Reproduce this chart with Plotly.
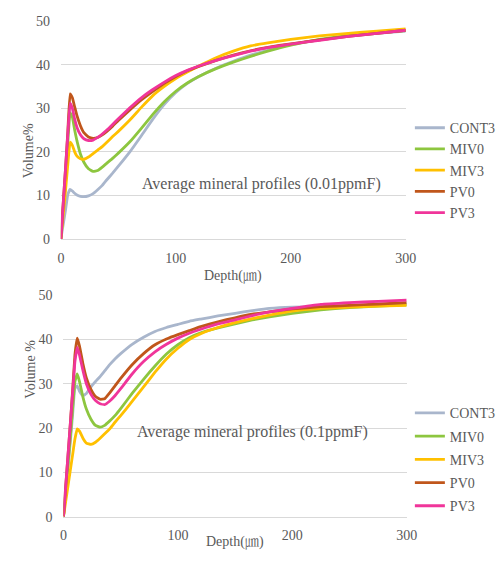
import plotly.graph_objects as go

# ---------------- data ----------------
depth = [0, 2, 4, 6, 8, 10, 12, 14, 17, 20, 24, 28, 32, 36, 40, 45, 50, 60, 70, 80,
         90, 100, 110, 120, 135, 150, 165, 180, 200, 225, 250, 275, 300]

series_names = ["CONT3", "MIV0", "MIV3", "PV0", "PV3"]
series_colors = ["#A9B6CC", "#8DC63F", "#FFC000", "#C0561B", "#F0359A"]

# Average mineral profiles (0.01ppmF)
top_cont3 = [0, 3.3, 6.6, 10.2, 11.4, 11.0, 10.5, 10.1, 9.8, 9.7, 9.9, 10.4, 11.3, 12.3, 13.6, 15.1, 16.7,
             20.0, 23.7, 27.5, 30.9, 33.6, 35.7, 37.3, 39.2, 40.8, 42.2, 43.3, 44.6, 45.7, 46.6, 47.2, 47.7]
top_miv0 = [0, 7, 14.5, 22, 29, 28, 25, 22.5, 19.5, 17.6, 16.1, 15.5, 15.7, 16.5, 17.4, 18.5, 19.7,
            22.3, 25.4, 28.6, 31.5, 33.9, 35.8, 37.3, 39.1, 40.6, 41.9, 43.1, 44.5, 45.8, 46.7, 47.3, 47.8]
top_miv3 = [0, 5.5, 11, 17, 22.2, 21.5, 20, 19.0, 18.4, 18.3, 18.8, 19.6, 20.4, 21.2, 22.2, 23.5, 24.7,
            27.3, 30.2, 32.9, 35.0, 36.8, 38.3, 39.7, 41.6, 43.1, 44.3, 45.0, 45.8, 46.6, 47.2, 47.7, 48.2]
top_pv0 = [0, 8, 16, 24.5, 33.3, 32.4, 30.3, 28.3, 26.0, 24.4, 23.4, 23.1, 23.3, 23.9, 24.7, 25.9, 27.2,
           29.6, 31.9, 33.9, 35.7, 37.3, 38.6, 39.6, 41.0, 42.2, 43.2, 44.0, 44.8, 45.7, 46.5, 47.2, 47.9]
top_pv3 = [0, 8, 16, 24, 31.2, 30.0, 27.5, 25.6, 23.9, 23.0, 22.6, 22.7, 23.3, 24.1, 25.0, 26.3, 27.6,
           30.1, 32.4, 34.3, 36.0, 37.5, 38.7, 39.7, 41.0, 42.1, 43.1, 43.9, 44.7, 45.6, 46.5, 47.2, 47.9]

# Average mineral profiles (0.1ppmF)
bot_cont3 = [0, 5.5, 11, 17, 23, 29, 29.5, 28.3, 27.3, 27.8, 29.3, 30.5, 31.6, 32.9, 34.2, 35.6, 36.8,
             38.9, 40.5, 41.8, 42.7, 43.4, 44.1, 44.6, 45.3, 45.9, 46.5, 47.0, 47.3, 47.4, 47.6, 47.8, 48.0]
bot_miv0 = [0, 6, 12, 18, 24.5, 30.5, 32.2, 30.5, 27.0, 24.3, 22.0, 20.6, 20.2, 20.6, 21.5, 22.8, 24.4,
            27.8, 31.0, 34.0, 36.7, 38.8, 40.4, 41.5, 42.6, 43.5, 44.4, 45.1, 45.9, 46.7, 47.2, 47.5, 47.8]
bot_miv3 = [0, 3.5, 7, 10.5, 14, 17.5, 19.8, 19.3, 17.7, 16.6, 16.3, 16.8, 17.7, 18.7, 19.7, 21.3, 22.8,
            26.0, 29.3, 32.6, 35.6, 38.0, 40.0, 41.3, 42.7, 43.8, 44.7, 45.5, 46.4, 47.0, 47.3, 47.5, 47.7]
bot_pv0 = [0, 7, 14, 21, 28.5, 36.5, 40.3, 38.5, 34.5, 31.3, 28.7, 27.1, 26.5, 26.6, 27.8, 29.5, 31.2,
           34.3, 36.8, 38.8, 40.1, 41.1, 42.0, 42.9, 44.0, 44.9, 45.7, 46.2, 46.9, 47.4, 47.7, 48.0, 48.3]
bot_pv3 = [0, 7, 14, 21, 28, 35, 38.2, 36.5, 33.0, 30.0, 27.6, 26.2, 25.5, 25.3, 26.0, 27.3, 28.9,
           32.2, 35.0, 37.2, 38.9, 40.3, 41.4, 42.3, 43.5, 44.4, 45.4, 46.2, 47.0, 47.9, 48.3, 48.6, 48.9]

top_values = [top_cont3, top_miv0, top_miv3, top_pv0, top_pv3]
bot_values = [bot_cont3, bot_miv0, bot_miv3, bot_pv0, bot_pv3]

x_ticks = [0, 100, 200, 300]
y_ticks = [0, 10, 20, 30, 40, 50]

top_note = "Average mineral profiles (0.01ppmF)"
bot_note = "Average mineral profiles (0.1ppmF)"

# ---------------- figure ----------------
FONT = "Liberation Serif, Noto Serif CJK JP, Noto Sans CJK JP, serif"
TXT = "#595959"
GRID = "#D9D9D9"

fig = go.Figure()

for name, color, vals in zip(series_names, series_colors, top_values):
    fig.add_trace(go.Scatter(x=depth, y=vals, name=name, mode="lines",
                             line=dict(color=color, width=2.8, shape="spline", smoothing=0.3),
                             xaxis="x", yaxis="y", legend="legend"))

for name, color, vals in zip(series_names, series_colors, bot_values):
    fig.add_trace(go.Scatter(x=depth, y=vals, name=name, mode="lines",
                             line=dict(color=color, width=2.8, shape="spline", smoothing=0.3),
                             xaxis="x2", yaxis="y2", legend="legend2", legendgroup="b" + name))

W, H = 501, 566

def px(v):
    return v / W

def py(v):
    return 1 - v / H

xax = dict(range=[0, 300], tickvals=x_ticks, showgrid=False, zeroline=False,
           showline=True, linecolor=GRID, linewidth=1, ticks="",
           tickfont=dict(family=FONT, size=14, color=TXT), ticklabelstandoff=6,
           fixedrange=True)
yax = dict(range=[0, 50], tickvals=y_ticks, showgrid=True, gridcolor=GRID, gridwidth=1,
           zeroline=False, showline=False, ticks="",
           tickfont=dict(family=FONT, size=14, color=TXT), ticklabelstandoff=10,
           fixedrange=True)

legend_common = dict(font=dict(family=FONT, size=14, color=TXT), bgcolor="rgba(0,0,0,0)",
                     borderwidth=0, itemwidth=30, xanchor="left", yanchor="top")

fig.update_layout(
    width=W, height=H,
    margin=dict(l=0, r=0, t=0, b=0),
    paper_bgcolor="white", plot_bgcolor="white",
    showlegend=True,
    xaxis=dict(xax, domain=[px(59), px(416.7)], anchor="y"),
    yaxis=dict(yax, domain=[py(238.3), py(14.5)], anchor="x"),
    xaxis2=dict(xax, domain=[px(61.7), px(417.7)], anchor="y2"),
    yaxis2=dict(yax, domain=[py(523.5), py(296)], anchor="x2"),
    legend=dict(legend_common, x=px(421), y=py(108), traceorder="normal"),
    legend2=dict(legend_common, x=px(421), y=py(401), traceorder="grouped", tracegroupgap=2),
    annotations=[
        dict(text=top_note, x=px(267.5), y=py(171), xref="paper", yref="paper",
             showarrow=False, font=dict(family=FONT, size=16, color=TXT)),
        dict(text=bot_note, x=px(257.7), y=py(448), xref="paper", yref="paper",
             showarrow=False, font=dict(family=FONT, size=16, color=TXT)),
        dict(text="Volume%", x=px(15), y=py(117), xref="paper", yref="paper", textangle=-90,
             showarrow=False, font=dict(family=FONT, size=14, color=TXT)),
        dict(text="Volume %", x=px(18), y=py(404), xref="paper", yref="paper", textangle=-90,
             showarrow=False, font=dict(family=FONT, size=14, color=TXT)),
        dict(text="Depth(㎛)", x=px(237.7), y=py(276), xref="paper", yref="paper",
             showarrow=False, font=dict(family=FONT, size=14, color=TXT)),
        dict(text="Depth(㎛)", x=px(240), y=py(560), xref="paper", yref="paper",
             showarrow=False, font=dict(family=FONT, size=14, color=TXT)),
    ],
)

fig.write_html("out.html")
